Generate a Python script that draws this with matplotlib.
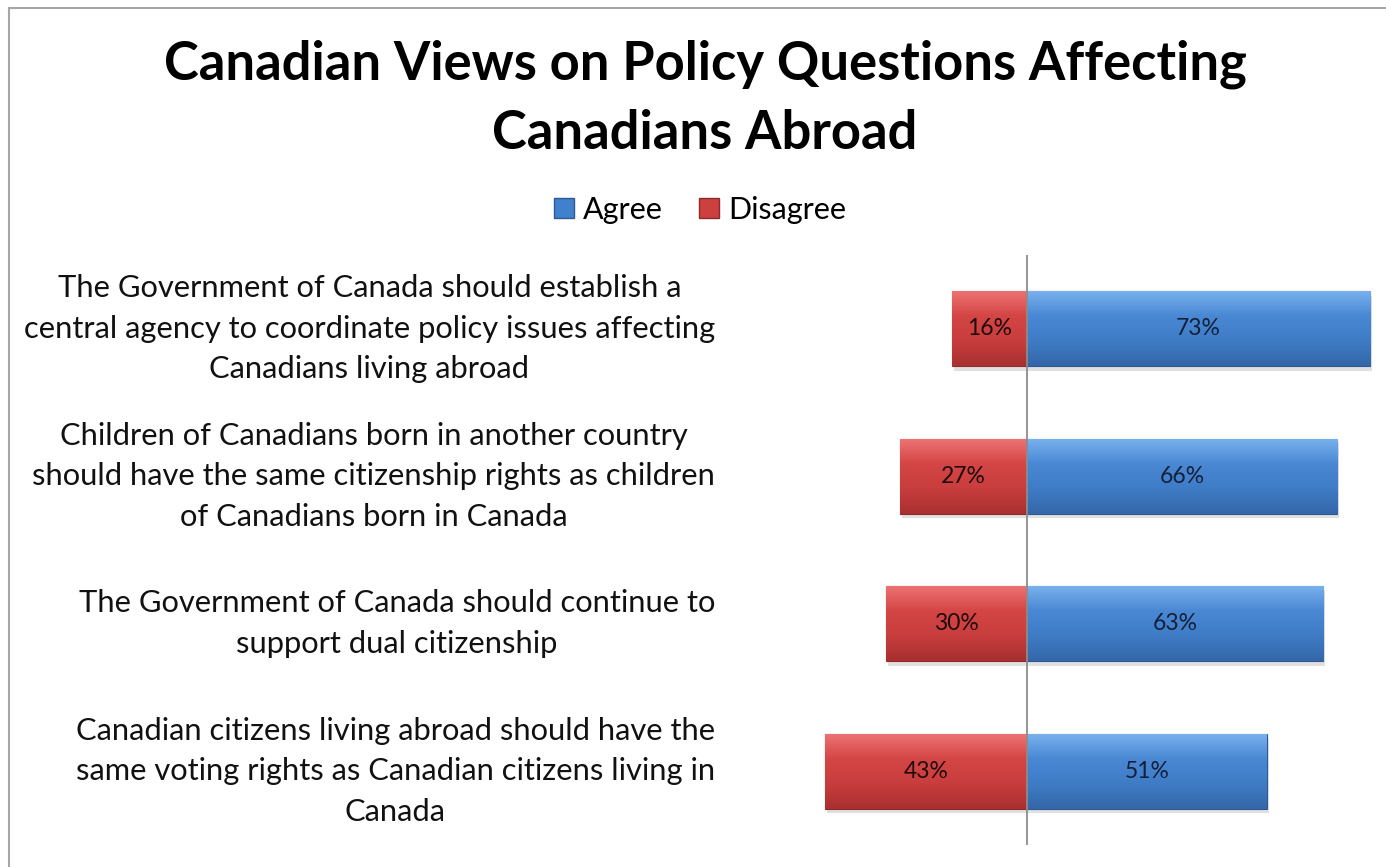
import matplotlib.pyplot as plt
import numpy as np
from matplotlib.patches import Patch
from matplotlib.colors import LinearSegmentedColormap
from matplotlib.lines import Line2D
import matplotlib.transforms as mtransforms

# Chart data
statements = [
    "The Government of Canada should establish a\ncentral agency to coordinate policy issues affecting\nCanadians living abroad",
    "Children of Canadians born in another country\nshould have the same citizenship rights as children\nof Canadians born in Canada",
    "The Government of Canada should continue to\nsupport dual citizenship",
    "Canadian citizens living abroad should have the\nsame voting rights as Canadian citizens living in\nCanada",
]
agree = [73, 66, 63, 51]
disagree = [16, 27, 30, 43]
series_names = ["Agree", "Disagree"]

plt.rcParams['font.family'] = ['Lato', 'DejaVu Sans']

W, H = 1386, 867
fig = plt.figure(figsize=(W / 100, H / 100), dpi=100)
fig.patch.set_facecolor('white')

# plot area (zero line at ~1027px, ~4.7px per percent)
ax = fig.add_axes([768.5 / W, 1 - 845 / H, (1382 - 768.5) / W, 590 / H])
y = np.arange(len(statements))
bar_h = 0.51

blue_cmap = LinearSegmentedColormap.from_list('b', ['#7ab2ee', '#4a88d4', '#3f7cc6', '#3467a8'])
red_cmap = LinearSegmentedColormap.from_list('r', ['#ee7474', '#d44646', '#c83d3d', '#a83030'])

blue_bars = ax.barh(y, agree, height=bar_h, color='#4080cc', edgecolor='#2d5a92', lw=0.8, zorder=2)
red_bars = ax.barh(y, [-d for d in disagree], height=bar_h, color='#cc4040', edgecolor='#8e2a2a', lw=0.8, zorder=2)

grad = np.linspace(0, 1, 100).reshape(-1, 1)
for bars, cmap in [(blue_bars, blue_cmap), (red_bars, red_cmap)]:
    for p in bars:
        x0, y0 = p.get_x(), p.get_y()
        w, h = p.get_width(), p.get_height()
        # soft shadow
        ax.add_patch(plt.Rectangle((x0 + 0.4, y0 + 0.03), w, h, color='#000000', alpha=0.12, lw=0, zorder=1))
        im = ax.imshow(grad, extent=[x0, x0 + w, y0, y0 + h], origin='lower', aspect='auto',
                       cmap=cmap, zorder=2.5)
        im.set_clip_path(p)

for i in range(len(statements)):
    ax.text(agree[i] / 2, y[i], f"{agree[i]}%", ha='center', va='center', fontsize=16.5, color='#14203a', zorder=4)
    ax.text(-disagree[i] / 2, y[i], f"{disagree[i]}%", ha='center', va='center', fontsize=16.5, color='#200a0a', zorder=4)

ax.axvline(0, color='#8c8c8c', lw=1.3, zorder=3)
ax.set_xlim(-55, 75.5)
ax.set_ylim(len(statements) - 0.5, -0.5)
ax.set_aspect('auto')
for s in ax.spines.values():
    s.set_visible(False)
ax.set_xticks([])
ax.set_yticks([])

# category labels, right aligned block with centered lines
trans = mtransforms.blended_transform_factory(fig.transFigure, ax.transData)
for i, s in enumerate(statements):
    ax.text(715 / W, y[i], s, transform=trans, ha='right', va='center', multialignment='center',
            fontsize=22.2, color='#111111', linespacing=1.55)

# title
fig.text(705 / W, 1 - 99 / H, "Canadian Views on Policy Questions Affecting\nCanadians Abroad",
         ha='center', va='center', fontsize=37.8, fontweight='bold', linespacing=1.5)

# legend
handles = [Patch(facecolor='#4080cc', edgecolor='#2d5a92'), Patch(facecolor='#cc4040', edgecolor='#8e2a2a')]
fig.legend(handles, series_names, loc='center', bbox_to_anchor=(700 / W, 1 - 210 / H), ncol=2,
           frameon=False, fontsize=22, handlelength=0.65, handleheight=0.65, handletextpad=0.3,
           columnspacing=1.2)

# chart frame (top and left edges visible)
fig.add_artist(Line2D([9 / W, 1], [1 - 8 / H, 1 - 8 / H], color='#a6a6a6', lw=1.5))
fig.add_artist(Line2D([9 / W, 9 / W], [0, 1 - 8 / H], color='#a6a6a6', lw=1.5))

fig.savefig('out.png', dpi=100)
